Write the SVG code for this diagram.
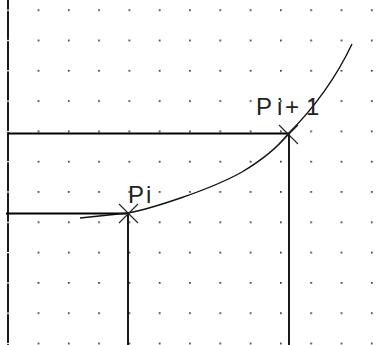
<svg xmlns="http://www.w3.org/2000/svg" width="390" height="345" viewBox="0 0 390 345">
<defs>
<pattern id="dots" x="0" y="0" width="30.3" height="30.3" patternUnits="userSpaceOnUse" patternTransform="translate(7.3 9.3)">
<rect x="0" y="0" width="1.7" height="1.7" fill="#333"/>
</pattern>
<pattern id="gaps" x="0" y="0" width="30.3" height="30.3" patternUnits="userSpaceOnUse" patternTransform="translate(0 9.6)">
<rect x="0" y="0" width="30.3" height="1.2" fill="#fff"/>
</pattern>
</defs>
<style>
.ln{stroke:#000;stroke-width:1.8;fill:none}
.cv{stroke:#111;stroke-width:1.4;fill:none}
.cr{stroke:#222;stroke-width:1.1}
.lb{font-family:"Liberation Sans",Arial,sans-serif;font-size:24px;fill:#222;font-weight:normal}
</style>
<rect width="390" height="345" fill="#fff"/>
<g id="grid">
<rect x="30" y="0" width="360" height="345" fill="url(#dots)"/>
</g>
<g id="axes">
<line class="ln" x1="8" y1="0" x2="8" y2="345"/>
<rect x="6" y="0" width="4" height="345" fill="url(#gaps)"/>
</g>
<g id="connectors">
<line class="ln" x1="8" y1="133.5" x2="289" y2="133.5"/>
<line class="ln" x1="289" y1="133.5" x2="289" y2="345"/>
<line class="ln" x1="6" y1="213.5" x2="128" y2="213.5"/>
<line class="ln" x1="128" y1="213.5" x2="128" y2="345"/>
<path class="cv" d="M80,218 L128,213 C150,209 210,190 242,172 C262,160 278,147 288,134 C310,112 335,80 352,44"/>
</g>
<g id="Pi">
<line class="cr" x1="119" y1="204" x2="138" y2="223"/>
<line class="cr" x1="119" y1="223" x2="138" y2="204"/>
<text class="lb" x="128 146" y="203">Pi</text>
</g>
<g id="Pi1">
<line class="cr" x1="279" y1="125" x2="298" y2="144"/>
<line class="cr" x1="279" y1="144" x2="298" y2="125"/>
<text class="lb" x="256 277 285 306" y="115">Pi+1</text>
</g>
</svg>
